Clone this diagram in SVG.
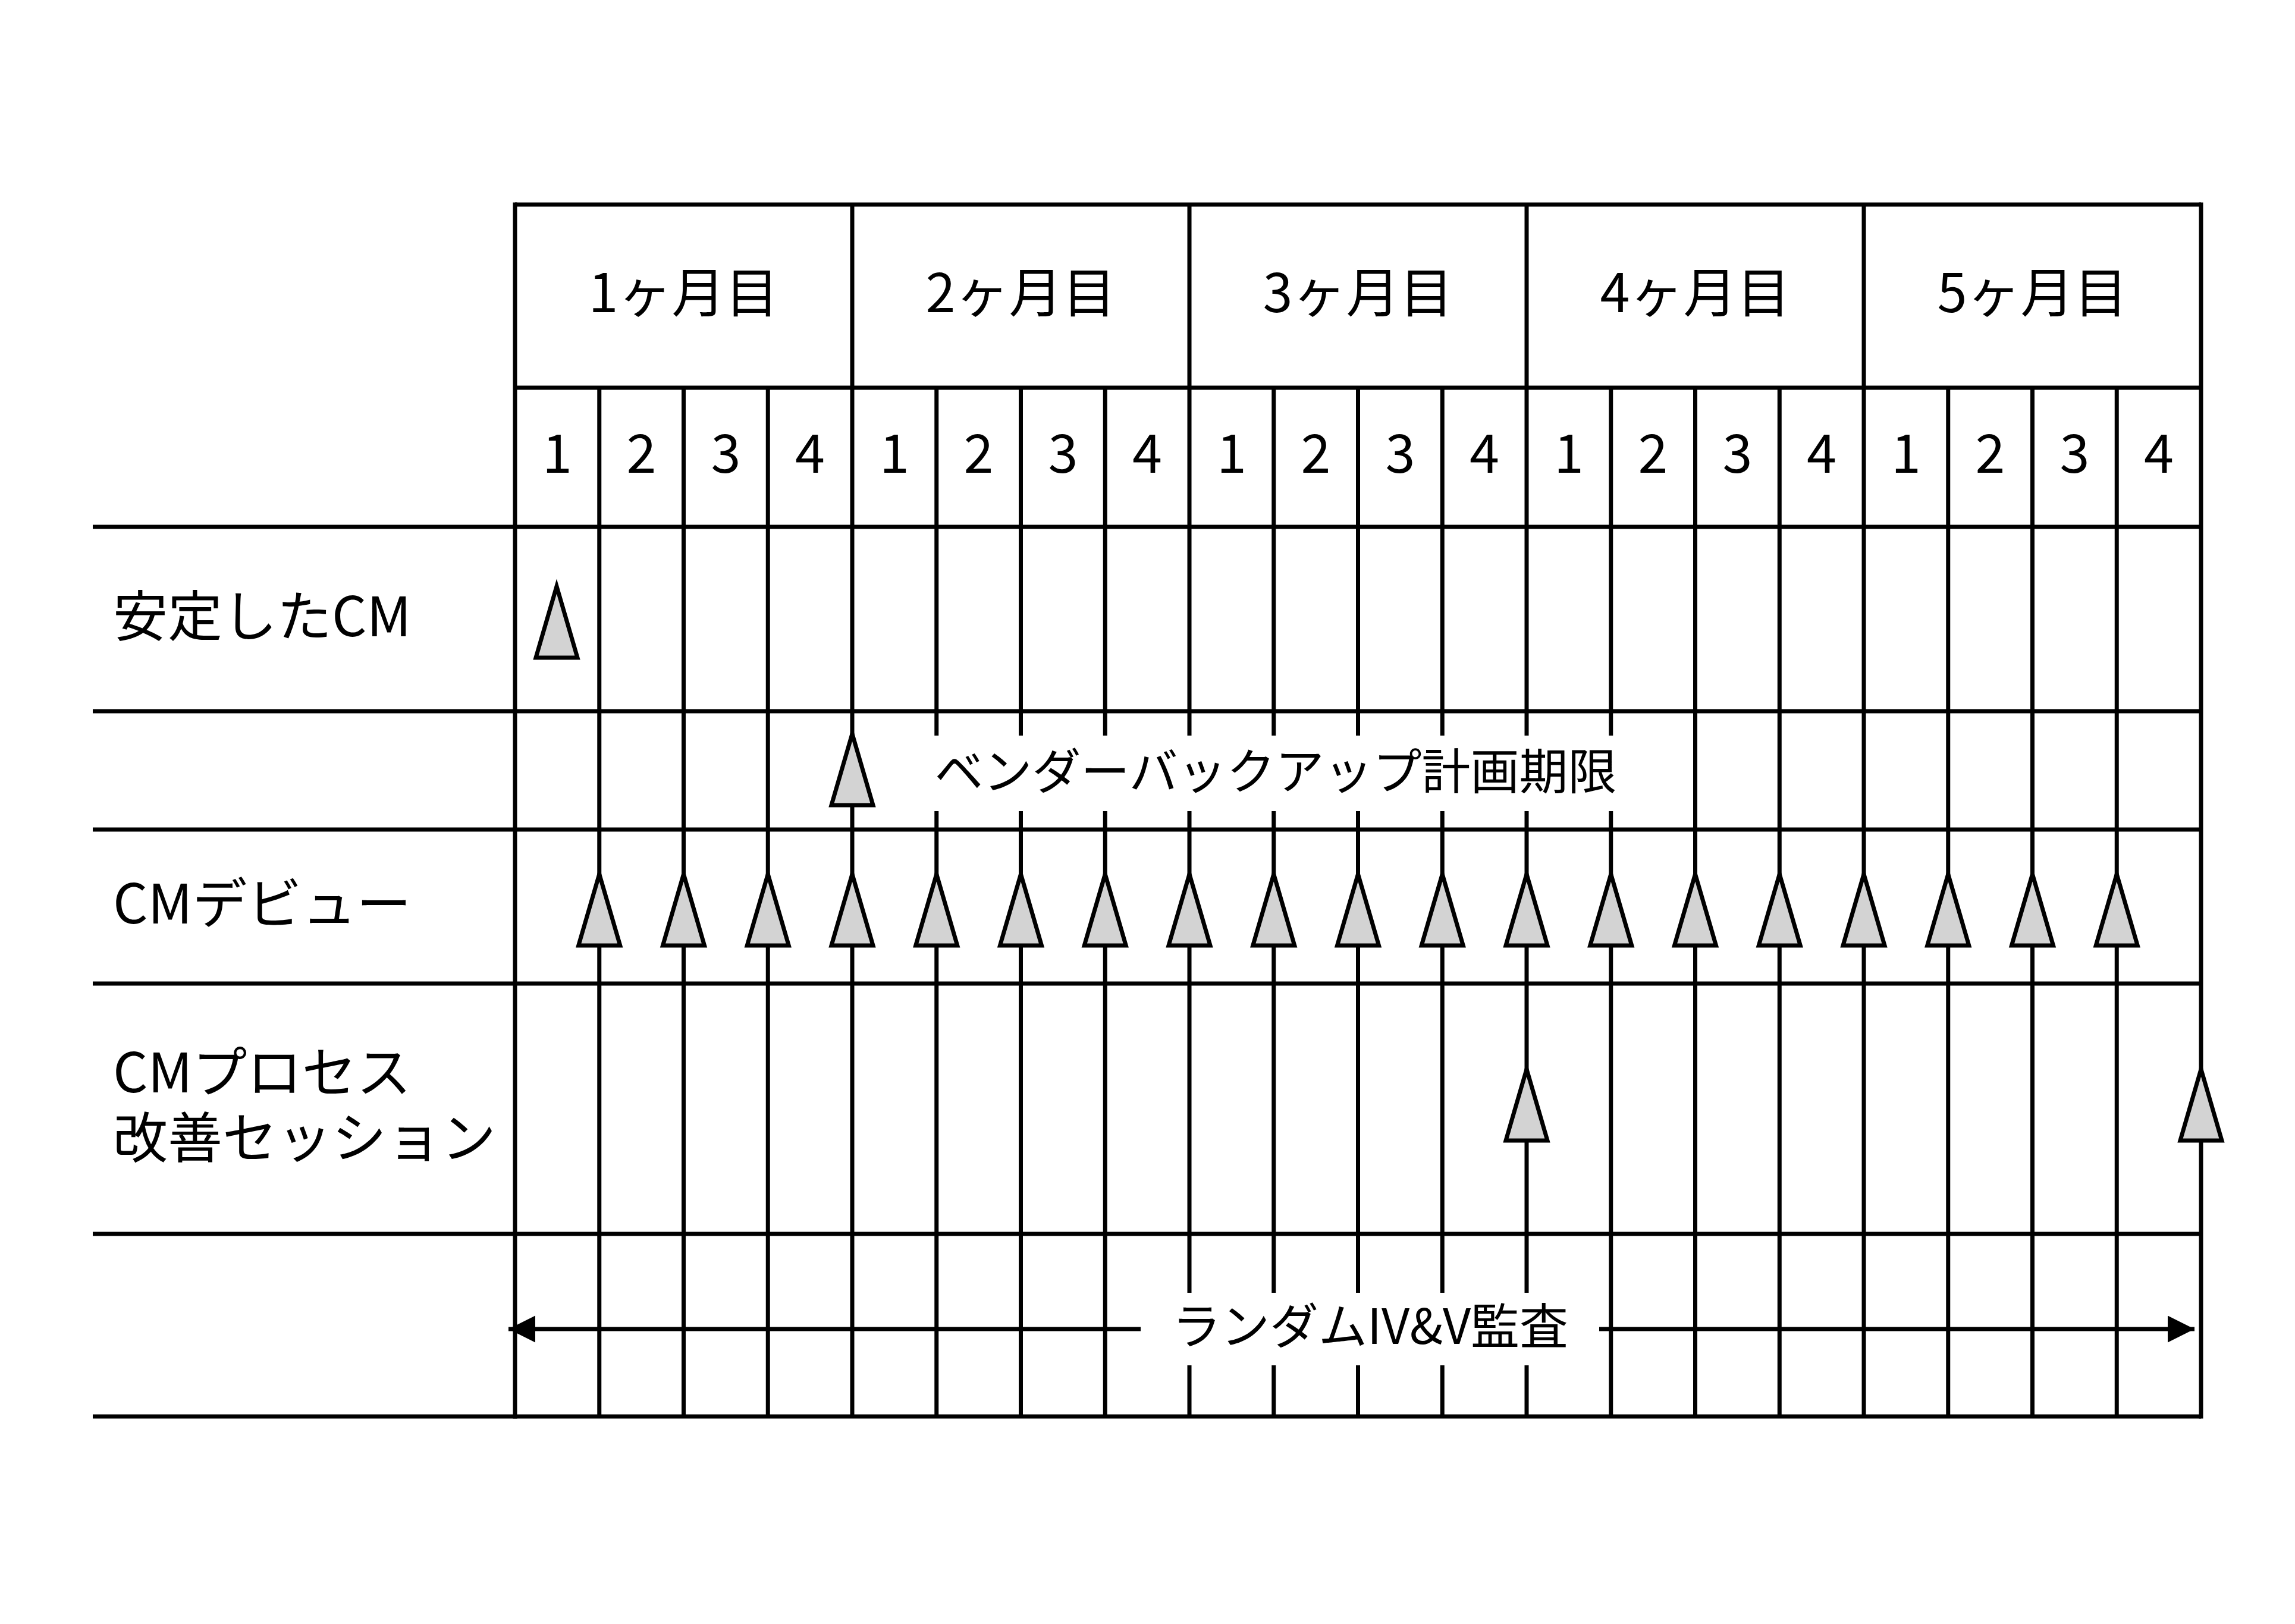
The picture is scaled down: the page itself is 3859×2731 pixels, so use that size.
<svg xmlns="http://www.w3.org/2000/svg" xmlns:xlink="http://www.w3.org/1999/xlink" width="3859" height="2731" viewBox="0 0 3859 2731">
<style>
  .ln{stroke:#000;stroke-width:7;fill:none}
  .tri{fill:#d3d3d3;stroke:#000;stroke-width:7;stroke-linejoin:miter;stroke-miterlimit:10}
  .t{font-family:"Noto Sans CJK JP","Noto Sans",sans-serif;fill:#000}
  .hdr{font-size:90px;text-anchor:middle}
  .lbl{font-size:92px}
  .note{font-size:82px;text-anchor:middle}
  .bg{fill:#fff;stroke:none}
</style>
<defs>
  <path id="tri" d="M0,0 L35,120 L-35,120 Z"/>
  <marker id="ah" markerUnits="userSpaceOnUse" markerWidth="46" markerHeight="46" refX="45" refY="22.5" orient="auto" viewBox="0 0 46 46">
    <path d="M0,0 L45,22.5 L0,45 Z" fill="#000"/>
  </marker>
</defs>
<rect x="0" y="0" width="3859" height="2731" fill="#fff"/>

<g id="grid" class="ln">
  <line x1="866" y1="344" x2="3701" y2="344"/>
  <line x1="866" y1="652" x2="3701" y2="652"/>
  <line x1="156" y1="886" x2="3701" y2="886"/>
  <line x1="156" y1="1196" x2="3701" y2="1196"/>
  <line x1="156" y1="1395" x2="3701" y2="1395"/>
  <line x1="156" y1="1654" x2="3701" y2="1654"/>
  <line x1="156" y1="2075" x2="3701" y2="2075"/>
  <line x1="156" y1="2382" x2="3701" y2="2382"/>
  <line x1="866" y1="340.5" x2="866" y2="2385.5"/>
  <line x1="3701" y1="340.5" x2="3701" y2="2385.5"/>
  <line x1="1433" y1="344" x2="1433" y2="652"/>
  <line x1="2000" y1="344" x2="2000" y2="652"/>
  <line x1="2567" y1="344" x2="2567" y2="652"/>
  <line x1="3134" y1="344" x2="3134" y2="652"/>
</g>

<g id="connectors" class="ln">
  <line x1="1007.75" y1="652" x2="1007.75" y2="2382"/>
  <line x1="1149.5" y1="652" x2="1149.5" y2="2382"/>
  <line x1="1291.25" y1="652" x2="1291.25" y2="2382"/>
  <line x1="1433" y1="652" x2="1433" y2="2382"/>
  <line x1="1574.75" y1="652" x2="1574.75" y2="2382"/>
  <line x1="1716.5" y1="652" x2="1716.5" y2="2382"/>
  <line x1="1858.25" y1="652" x2="1858.25" y2="2382"/>
  <line x1="2000" y1="652" x2="2000" y2="2382"/>
  <line x1="2141.75" y1="652" x2="2141.75" y2="2382"/>
  <line x1="2283.5" y1="652" x2="2283.5" y2="2382"/>
  <line x1="2425.25" y1="652" x2="2425.25" y2="2382"/>
  <line x1="2567" y1="652" x2="2567" y2="2382"/>
  <line x1="2708.75" y1="652" x2="2708.75" y2="2382"/>
  <line x1="2850.5" y1="652" x2="2850.5" y2="2382"/>
  <line x1="2992.25" y1="652" x2="2992.25" y2="2382"/>
  <line x1="3134" y1="652" x2="3134" y2="2382"/>
  <line x1="3275.75" y1="652" x2="3275.75" y2="2382"/>
  <line x1="3417.5" y1="652" x2="3417.5" y2="2382"/>
  <line x1="3559.25" y1="652" x2="3559.25" y2="2382"/>
  <rect class="bg" x="1918" y="2174" width="771" height="122"/>
  <line x1="1918" y1="2235" x2="855" y2="2235" marker-end="url(#ah)"/>
  <line x1="2689" y1="2235" x2="3690" y2="2235" marker-end="url(#ah)"/>
</g>

<g id="months" class="t hdr">
  <text x="1149.5" y="525">1ヶ月目</text>
  <text x="1716.5" y="525">2ヶ月目</text>
  <text x="2283.5" y="525">3ヶ月目</text>
  <text x="2850.5" y="525">4ヶ月目</text>
  <text x="3417.5" y="525">5ヶ月目</text>
</g>
<g id="weeks" class="t hdr">
  <text x="936.9" y="795">1</text><text x="1078.6" y="795">2</text><text x="1220.4" y="795">3</text><text x="1362.1" y="795">4</text>
  <text x="1503.9" y="795">1</text><text x="1645.6" y="795">2</text><text x="1787.4" y="795">3</text><text x="1929.1" y="795">4</text>
  <text x="2070.9" y="795">1</text><text x="2212.6" y="795">2</text><text x="2354.4" y="795">3</text><text x="2496.1" y="795">4</text>
  <text x="2637.9" y="795">1</text><text x="2779.6" y="795">2</text><text x="2921.4" y="795">3</text><text x="3063.1" y="795">4</text>
  <text x="3204.9" y="795">1</text><text x="3346.6" y="795">2</text><text x="3488.4" y="795">3</text><text x="3630.1" y="795">4</text>
</g>

<g id="label-stable" class="t lbl"><text x="190" y="1070">安定したCM</text></g>
<g id="label-debut" class="t lbl"><text x="190" y="1553">CMデビュー</text></g>
<g id="label-process" class="t lbl"><text x="190" y="1837">CMプロセス</text><text x="190" y="1947">改善セッション</text></g>

<g id="milestone-stable"><use xlink:href="#tri" href="#tri" class="tri" x="936" y="986"/></g>

<g id="milestone-vendor">
  <rect class="bg" x="1560" y="1237" width="1170" height="127"/>
  <use xlink:href="#tri" href="#tri" class="tri" x="1433" y="1234"/>
  <text class="t note" x="2145" y="1327">ベンダーバックアップ計画期限</text>
</g>

<g id="milestones-debut" class="tri">
  <use xlink:href="#tri" href="#tri" x="1007.75" y="1470"/>
  <use xlink:href="#tri" href="#tri" x="1149.5" y="1470"/>
  <use xlink:href="#tri" href="#tri" x="1291.25" y="1470"/>
  <use xlink:href="#tri" href="#tri" x="1433" y="1470"/>
  <use xlink:href="#tri" href="#tri" x="1574.75" y="1470"/>
  <use xlink:href="#tri" href="#tri" x="1716.5" y="1470"/>
  <use xlink:href="#tri" href="#tri" x="1858.25" y="1470"/>
  <use xlink:href="#tri" href="#tri" x="2000" y="1470"/>
  <use xlink:href="#tri" href="#tri" x="2141.75" y="1470"/>
  <use xlink:href="#tri" href="#tri" x="2283.5" y="1470"/>
  <use xlink:href="#tri" href="#tri" x="2425.25" y="1470"/>
  <use xlink:href="#tri" href="#tri" x="2567" y="1470"/>
  <use xlink:href="#tri" href="#tri" x="2708.75" y="1470"/>
  <use xlink:href="#tri" href="#tri" x="2850.5" y="1470"/>
  <use xlink:href="#tri" href="#tri" x="2992.25" y="1470"/>
  <use xlink:href="#tri" href="#tri" x="3134" y="1470"/>
  <use xlink:href="#tri" href="#tri" x="3275.75" y="1470"/>
  <use xlink:href="#tri" href="#tri" x="3417.5" y="1470"/>
  <use xlink:href="#tri" href="#tri" x="3559.25" y="1470"/>
</g>

<g id="milestones-process" class="tri">
  <use xlink:href="#tri" href="#tri" x="2567" y="1798"/>
  <use xlink:href="#tri" href="#tri" x="3701" y="1798"/>
</g>

<g id="label-audit"><text class="t note" x="2304" y="2260">ランダムIV&amp;V監査</text></g>
</svg>
